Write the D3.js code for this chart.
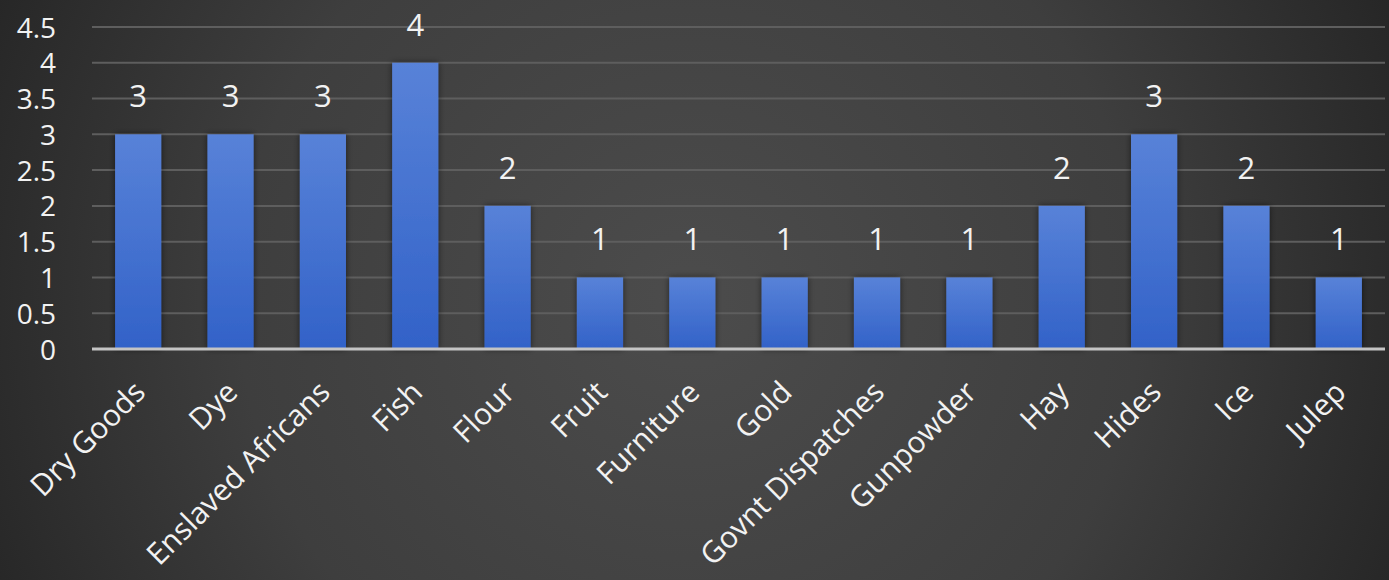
<!DOCTYPE html>
<html>
<head>
<meta charset="utf-8">
<script src="https://cdn.jsdelivr.net/npm/d3@7"></script>
<style>
  html, body { margin: 0; padding: 0; background: #333; }
  svg { display: block; }
  text { font-family: "Open Sans", "Noto Sans", sans-serif; fill: #f2f2f2; }
</style>
</head>
<body>
<svg id="chart" width="1389" height="580"></svg>
<script>
// Cargo types and how many voyages carried each
const categories = ["Dry Goods", "Dye", "Enslaved Africans", "Fish", "Flour", "Fruit",
  "Furniture", "Gold", "Govnt Dispatches", "Gunpowder", "Hay", "Hides", "Ice", "Julep"];
const counts = [3, 3, 3, 4, 2, 1, 1, 1, 1, 1, 2, 3, 2, 1];
const yTicks = [0, 0.5, 1, 1.5, 2, 2.5, 3, 3.5, 4, 4.5];

const W = 1389, H = 580;
const margin = { left: 92, right: 4, top: 27, bottom: 231 };

const svg = d3.select("#chart");
const defs = svg.append("defs");

// dark vignette backdrop
const bg = defs.append("radialGradient").attr("id", "bg")
  .attr("gradientUnits", "userSpaceOnUse")
  .attr("cx", 690).attr("cy", 300).attr("r", 820);
bg.append("stop").attr("offset", 0).attr("stop-color", "#4c4c4c");
bg.append("stop").attr("offset", 0.55).attr("stop-color", "#3e3e3e");
bg.append("stop").attr("offset", 1).attr("stop-color", "#222222");

const barGrad = defs.append("linearGradient").attr("id", "barGrad")
  .attr("x1", 0).attr("y1", 0).attr("x2", 0).attr("y2", 1);
barGrad.append("stop").attr("offset", 0).attr("stop-color", "#5882d8");
barGrad.append("stop").attr("offset", 1).attr("stop-color", "#3262c8");

const shadow = defs.append("filter").attr("id", "shadow")
  .attr("x", "-30%").attr("y", "-10%").attr("width", "160%").attr("height", "120%");
shadow.append("feDropShadow").attr("dx", 0).attr("dy", 0)
  .attr("stdDeviation", 3).attr("flood-color", "#000").attr("flood-opacity", 0.55);

svg.append("rect").attr("width", W).attr("height", H).attr("fill", "url(#bg)");

const x = d3.scaleBand()
  .domain(categories)
  .range([margin.left, W - margin.right])
  .paddingInner(0.5).paddingOuter(0.25);

const y = d3.scaleLinear()
  .domain([0, 4.5])
  .range([H - margin.bottom, margin.top]);

// horizontal gridlines
svg.append("g")
  .selectAll("line")
  .data(yTicks.filter(d => d > 0))
  .join("line")
  .attr("x1", margin.left).attr("x2", W - margin.right)
  .attr("y1", d => y(d)).attr("y2", d => y(d))
  .attr("stroke", "#5e5e5e").attr("stroke-width", 2);

// value axis labels
const yAxis = d3.axisLeft(y).tickValues(yTicks).tickSize(0).tickPadding(0)
  .tickFormat(d3.format("~g"));
const yG = svg.append("g").attr("transform", `translate(56,0)`).call(yAxis);
yG.select(".domain").remove();
yG.selectAll("text")
  .attr("font-size", 28)
  .attr("fill", "#f2f2f2")
  .attr("dy", "0.36em")
  .style("font-family", "'Open Sans', 'Noto Sans', sans-serif");

// bars
svg.append("g")
  .selectAll("rect")
  .data(categories.map((c, i) => ({ c, v: counts[i] })))
  .join("rect")
  .attr("x", d => x(d.c))
  .attr("width", x.bandwidth())
  .attr("y", d => y(d.v))
  .attr("height", d => y(0) - y(d.v))
  .attr("fill", "url(#barGrad)")
  .attr("filter", "url(#shadow)");

// category axis baseline
svg.append("line")
  .attr("x1", margin.left).attr("x2", W - margin.right)
  .attr("y1", y(0)).attr("y2", y(0))
  .attr("stroke", "#c4c4c4").attr("stroke-width", 3);

// value labels above bars
svg.append("g")
  .selectAll("text")
  .data(categories.map((c, i) => ({ c, v: counts[i] })))
  .join("text")
  .attr("x", d => x(d.c) + x.bandwidth() / 2)
  .attr("y", d => y(d.v) - 27)
  .attr("text-anchor", "middle")
  .attr("font-size", 31)
  .text(d => d.v);

// rotated category labels
const xAxis = d3.axisBottom(x).tickSize(0).tickPadding(0);
const xG = svg.append("g").attr("transform", `translate(0,${y(0)})`).call(xAxis);
xG.select(".domain").remove();
xG.selectAll("text")
  .attr("font-size", 30)
  .attr("fill", "#f2f2f2")
  .attr("text-anchor", "end")
  .attr("y", 0).attr("dy", 0)
  .attr("transform", "translate(9,45) rotate(-45)")
  .style("font-family", "'Open Sans', 'Noto Sans', sans-serif");
</script>
</body>
</html>
